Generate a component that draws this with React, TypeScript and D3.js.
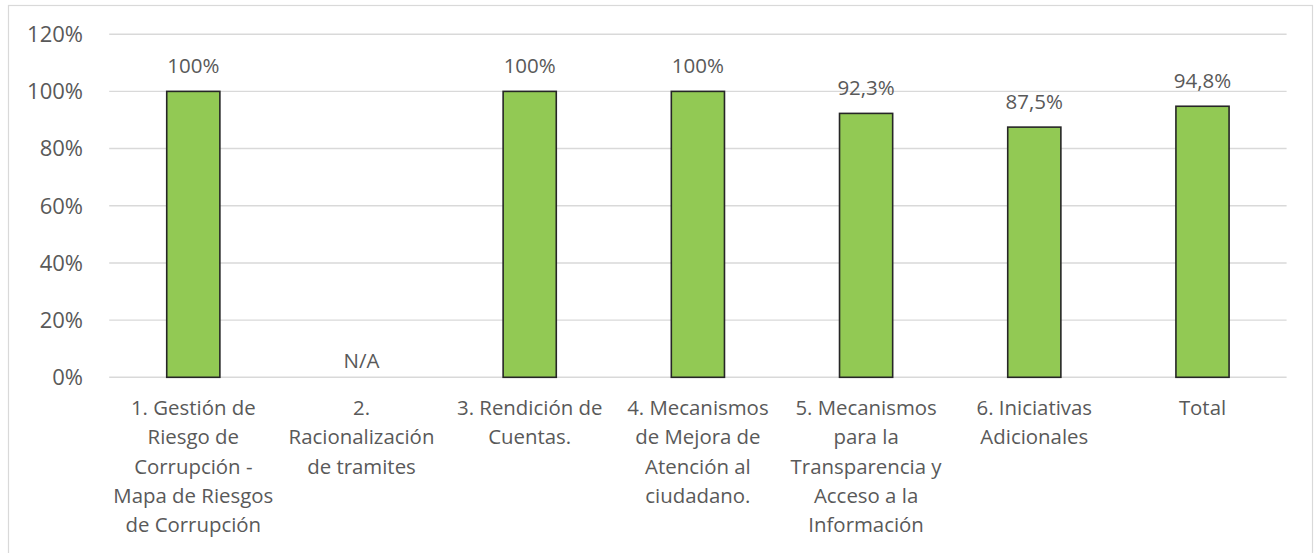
import React from "react";
import * as d3 from "d3";

const categories: string[] = [
  "1. Gestión de\nRiesgo de\nCorrupción -\nMapa de Riesgos\nde Corrupción",
  "2.\nRacionalización\nde tramites",
  "3. Rendición de\nCuentas.",
  "4. Mecanismos\nde Mejora de\nAtención al\nciudadano.",
  "5. Mecanismos\npara la\nTransparencia y\nAcceso a la\nInformación",
  "6. Iniciativas\nAdicionales",
  "Total",
];
const values: (number | null)[] = [1, null, 1, 1, 0.923, 0.875, 0.948];
const valueLabels: string[] = ["100%", "N/A", "100%", "100%", "92,3%", "87,5%", "94,8%"];
const yTicks: number[] = [0, 0.2, 0.4, 0.6, 0.8, 1.0, 1.2];

const W = 1315;
const H = 553;
const FONT = "'Open Sans', sans-serif";
const TEXT = "#595959";

export default function App() {
  const x = d3.scaleBand<string>().domain(categories).range([109.2, 1286.6]).paddingInner(0).paddingOuter(0);
  const y = d3.scaleLinear().domain([0, 1.2]).range([377.3, 34.2]);
  const barW = x.bandwidth() * 0.316;
  const fmt = (v: number) => `${Math.round(v * 100)}%`;

  return (
    <svg
      width={W}
      height={H}
      style={{ position: "absolute", left: 0, top: 0, background: "#fff" }}
      fontFamily={FONT}
    >
      <rect x={8.5} y={5.5} width={1304} height={560} fill="#fff" stroke="#d9d9d9" strokeWidth={1.2} />
      {yTicks.map((t) => (
        <g key={t}>
          <line x1={109.2} x2={1286.6} y1={y(t)} y2={y(t)} stroke="#d9d9d9" strokeWidth={1.4} />
          <text x={83} y={y(t)} dy="0.36em" textAnchor="end" fontSize={22} fill={TEXT}>
            {fmt(t)}
          </text>
        </g>
      ))}
      {categories.map((c, i) => {
        const cx = (x(c) as number) + x.bandwidth() / 2;
        const v = values[i];
        return (
          <g key={c}>
            {v !== null && (
              <rect
                x={cx - barW / 2}
                y={y(v)}
                width={barW}
                height={y(0) - y(v)}
                fill="#92c954"
                stroke="#262626"
                strokeWidth={1.6}
              />
            )}
            <text
              x={cx}
              y={v !== null ? y(v) - 18 : y(0) - 9}
              textAnchor="middle"
              fontSize={20.5}
              fill={TEXT}
            >
              {valueLabels[i]}
            </text>
            {c.split("\n").map((line, j) => (
              <text key={j} x={cx} y={415 + j * 29.3} textAnchor="middle" fontSize={20.4} fill={TEXT}>
                {line}
              </text>
            ))}
          </g>
        );
      })}
    </svg>
  );
}
